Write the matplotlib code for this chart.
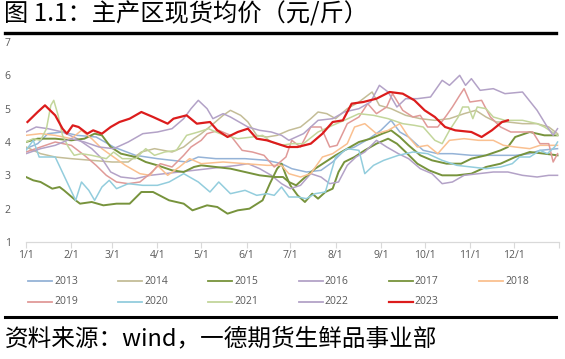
import matplotlib
matplotlib.use("Agg")
import matplotlib.pyplot as plt
from matplotlib.lines import Line2D

plt.rcParams['font.family'] = ['Noto Sans CJK SC', 'DejaVu Sans']

# ---------------- data (day of year, price) ----------------
years = ['2013', '2014', '2015', '2016', '2017', '2018',
         '2019', '2020', '2021', '2022', '2023']
colors = ['#95b3d7', '#c4bd97', '#77933c', '#b3a2c7', '#77933c', '#fac090',
          '#e09a98', '#93cddd', '#c3d69b', '#b3a2c7', '#dc1c1c']
widths = [1.1, 1.1, 1.4, 1.1, 1.4, 1.1, 1.1, 1.1, 1.1, 1.1, 1.6]

d2013 = [0, 8, 15, 25, 35, 48, 60, 75, 90, 100, 110, 118, 130, 150, 165, 175, 182, 192, 202, 210, 218, 225, 235, 243, 250, 256, 262, 272, 282, 292, 305, 320, 335, 345, 352, 364]
v2013 = [3.8, 3.95, 4.25, 4.3, 4.2, 4.15, 3.85, 3.6, 3.5, 3.45, 3.4, 3.55, 3.5, 3.5, 3.45, 3.35, 3.2, 3.1, 3.15, 3.4, 3.75, 3.85, 4.1, 4.35, 4.65, 4.3, 4.15, 3.75, 3.65, 3.65, 3.6, 3.6, 3.6, 3.65, 3.75, 3.8]

d2014 = [0, 10, 20, 31, 45, 59, 70, 79, 88, 100, 108, 115, 120, 127, 135, 140, 147, 152, 158, 165, 172, 180, 188, 195, 200, 206, 212, 220, 228, 237, 242, 250, 260, 270, 280, 290, 300, 308, 315, 322, 330, 340, 350, 358, 364]
v2014 = [3.85, 3.65, 3.55, 3.5, 3.45, 3.4, 3.4, 3.7, 3.8, 3.7, 3.85, 4.1, 4.25, 4.5, 4.8, 4.95, 4.8, 4.6, 4.2, 4.15, 4.2, 4.35, 4.45, 4.7, 4.9, 4.85, 4.7, 5.0, 5.2, 5.5, 5.1, 5.0, 4.8, 4.7, 4.65, 4.7, 4.85, 4.95, 4.75, 4.6, 4.6, 4.55, 4.55, 4.45, 4.25]

d2015 = [0, 5, 10, 18, 23, 26, 34, 37, 45, 53, 62, 71, 79, 87, 98, 108, 114, 124, 131, 138, 145, 153, 162, 167, 172, 175, 178, 181, 186, 191, 196, 200, 205, 210, 214, 218, 225, 232, 240, 248, 254, 260, 268, 276, 285, 295, 305, 315, 325, 335, 345, 355, 364]
v2015 = [2.95, 2.85, 2.8, 2.6, 2.65, 2.55, 2.25, 2.15, 2.2, 2.1, 2.15, 2.15, 2.5, 2.5, 2.25, 2.15, 1.95, 2.1, 2.05, 1.85, 1.95, 2.0, 2.25, 2.75, 3.2, 3.35, 3.0, 2.7, 2.4, 2.2, 2.45, 2.3, 2.5, 2.6, 3.1, 3.4, 3.55, 3.75, 3.95, 4.1, 3.95, 3.7, 3.35, 3.15, 3.0, 3.0, 3.05, 3.25, 3.35, 3.55, 3.7, 3.65, 3.6]

d2016 = [0, 7, 15, 25, 35, 45, 52, 58, 65, 75, 85, 95, 105, 115, 125, 135, 145, 152, 160, 168, 175, 181, 188, 195, 202, 208, 214, 220, 226, 232, 240, 247, 255, 262, 270, 278, 285, 292, 300, 310, 320, 330, 340, 350, 358, 364]
v2016 = [4.3, 4.45, 4.4, 4.3, 4.1, 3.8, 3.5, 3.1, 2.95, 2.9, 3.0, 3.05, 3.1, 3.15, 3.2, 3.25, 3.3, 3.35, 3.2, 3.0, 2.75, 2.6, 2.7, 3.05, 2.95, 2.75, 2.8, 3.3, 3.55, 3.7, 4.05, 3.85, 3.65, 3.5, 3.2, 3.05, 2.75, 2.8, 3.0, 3.05, 3.1, 3.1, 3.0, 2.95, 3.0, 3.0]

d2017 = [0, 8, 20, 31, 40, 47, 52, 58, 65, 75, 82, 90, 100, 108, 115, 120, 130, 140, 150, 160, 170, 176, 180, 185, 190, 198, 205, 212, 220, 228, 236, 244, 250, 256, 262, 270, 278, 288, 298, 305, 315, 325, 330, 335, 345, 355, 364]
v2017 = [4.0, 4.1, 4.1, 4.05, 4.1, 4.25, 4.2, 3.85, 3.65, 3.55, 3.4, 3.3, 3.15, 3.1, 3.25, 3.3, 3.25, 3.2, 3.1, 3.0, 2.95, 2.95, 2.8, 2.7, 2.9, 3.2, 3.4, 3.6, 3.8, 4.0, 4.1, 4.25, 4.35, 4.15, 3.9, 3.6, 3.45, 3.35, 3.35, 3.5, 3.6, 3.75, 3.85, 4.15, 4.3, 4.2, 4.2]

d2018 = [0, 10, 20, 31, 38, 45, 52, 60, 68, 78, 85, 90, 97, 105, 112, 120, 135, 150, 165, 175, 180, 188, 195, 203, 210, 220, 225, 232, 240, 248, 256, 262, 268, 275, 282, 290, 300, 310, 320, 327, 335, 345, 352, 364]
v2018 = [4.2, 4.25, 4.2, 4.1, 4.35, 4.1, 3.8, 3.55, 3.3, 3.05, 3.0, 3.3, 3.0, 3.25, 3.5, 3.35, 3.4, 3.35, 3.3, 3.3, 3.05, 2.95, 3.05, 3.55, 3.65, 3.95, 4.45, 4.55, 4.25, 4.35, 4.55, 4.15, 3.85, 3.9, 3.65, 4.05, 4.1, 4.05, 4.05, 3.9, 3.85, 3.8, 3.9, 3.9]

d2019 = [0, 10, 20, 31, 40, 48, 55, 62, 70, 78, 85, 92, 100, 108, 113, 120, 124, 132, 140, 148, 155, 163, 170, 178, 182, 188, 195, 202, 208, 213, 220, 228, 234, 240, 247, 251, 258, 265, 270, 275, 282, 288, 292, 297, 300, 304, 312, 318, 325, 332, 340, 347, 352, 358, 361, 364]
v2019 = [3.7, 3.85, 4.0, 3.9, 3.6, 3.3, 3.0, 2.8, 2.75, 2.8, 3.05, 3.35, 3.25, 3.6, 3.85, 4.05, 4.25, 4.35, 4.2, 3.75, 3.7, 3.6, 3.25, 3.55, 4.05, 3.85, 4.45, 4.45, 3.85, 3.9, 4.55, 4.75, 5.15, 4.85, 5.05, 5.45, 4.95, 4.75, 4.8, 4.45, 4.45, 4.8, 5.05, 5.4, 5.6, 5.2, 5.25, 4.75, 4.45, 4.3, 4.3, 4.3, 3.95, 3.95, 3.4, 3.65]

d2020 = [0, 5, 9, 14, 20, 34, 38, 43, 47, 52, 57, 62, 70, 80, 90, 98, 108, 118, 126, 132, 140, 150, 158, 165, 170, 175, 180, 186, 192, 198, 205, 212, 220, 228, 232, 238, 245, 255, 265, 275, 285, 295, 305, 315, 325, 333, 338, 345, 352, 357, 362, 364]
v2020 = [3.75, 4.05, 3.55, 3.55, 3.55, 2.25, 2.8, 2.55, 2.25, 2.65, 2.85, 2.6, 2.75, 2.7, 2.7, 2.8, 3.05, 2.8, 2.5, 2.8, 2.45, 2.55, 2.4, 2.45, 2.4, 2.65, 2.35, 2.35, 2.3, 2.45, 2.5, 3.55, 3.8, 3.75, 3.05, 3.3, 3.45, 3.6, 3.7, 3.65, 3.45, 3.3, 3.25, 3.2, 3.25, 3.35, 3.55, 3.55, 3.75, 3.65, 3.85, 4.0]

d2021 = [0, 5, 10, 14, 17, 19, 22, 25, 29, 33, 38, 45, 55, 60, 66, 75, 82, 88, 95, 103, 110, 118, 125, 130, 136, 145, 155, 162, 168, 175, 182, 190, 200, 210, 218, 228, 238, 248, 258, 266, 272, 280, 285, 290, 296, 299, 303, 306, 309, 315, 320, 328, 340, 350, 355, 362, 364]
v2021 = [4.0, 4.1, 4.05, 4.4, 5.1, 5.25, 4.8, 4.2, 3.85, 3.6, 3.65, 3.6, 3.5, 3.7, 3.5, 3.5, 3.8, 3.6, 3.7, 3.75, 4.2, 4.3, 4.4, 4.3, 4.2, 4.1, 4.15, 4.2, 4.0, 3.9, 3.95, 3.95, 4.3, 4.5, 4.65, 4.85, 4.8, 4.7, 4.55, 4.5, 4.45, 4.05, 3.95, 4.35, 4.75, 5.05, 5.05, 4.7, 5.05, 5.0, 4.75, 4.65, 4.65, 4.55, 4.45, 4.25, 4.2]

d2022 = [0, 10, 20, 31, 40, 50, 60, 70, 80, 90, 100, 108, 113, 118, 124, 128, 135, 140, 146, 152, 160, 168, 175, 180, 190, 200, 210, 218, 228, 236, 242, 248, 254, 260, 268, 277, 285, 290, 297, 301, 305, 311, 320, 328, 340, 350, 357, 361, 364]
v2022 = [3.65, 3.8, 3.9, 4.1, 4.0, 3.85, 3.8, 4.0, 4.25, 4.3, 4.4, 4.7, 5.0, 5.25, 5.0, 4.7, 4.85, 4.75, 4.6, 4.45, 4.35, 4.3, 4.2, 4.05, 4.25, 4.65, 4.7, 4.9, 5.0, 5.2, 5.7, 5.5, 5.05, 5.3, 5.3, 5.35, 5.85, 5.7, 6.0, 5.7, 5.9, 5.55, 5.6, 5.45, 5.5, 4.95, 4.45, 4.2, 4.4]

d2023 = [1, 8, 13, 20, 25, 28, 32, 36, 42, 46, 52, 58, 64, 71, 79, 87, 92, 97, 101, 110, 117, 126, 131, 138, 145, 152, 158, 165, 172, 179, 186, 195, 203, 210, 217, 223, 231, 240, 249, 258, 266, 273, 280, 287, 294, 305, 312, 319, 326, 330]
v2023 = [4.6, 4.9, 5.1, 4.8, 4.4, 4.25, 4.5, 4.45, 4.25, 4.35, 4.25, 4.45, 4.6, 4.7, 4.9, 4.75, 4.65, 4.55, 4.7, 4.8, 4.55, 4.6, 4.35, 4.15, 4.3, 4.4, 4.1, 4.05, 3.95, 3.85, 3.85, 3.95, 4.25, 4.6, 4.65, 5.15, 5.2, 5.3, 5.5, 5.45, 5.25, 4.95, 4.75, 4.45, 4.35, 4.3, 4.15, 4.35, 4.6, 4.65]

series_days = [d2013, d2014, d2015, d2016, d2017, d2018, d2019, d2020, d2021, d2022, d2023]
series_vals = [v2013, v2014, v2015, v2016, v2017, v2018, v2019, v2020, v2021, v2022, v2023]

month_days = [0, 31, 59, 90, 120, 151, 181, 212, 243, 273, 304, 334]
month_labels = ['1/1', '2/1', '3/1', '4/1', '5/1', '6/1', '7/1', '8/1', '9/1', '10/1', '11/1', '12/1']
y_ticks = [1, 2, 3, 4, 5, 6, 7]

title = '图 1.1：主产区现货均价（元/斤）'
source = '资料来源：wind，一德期货生鲜品事业部'

# ---------------- layout ----------------
W, H = 565, 359
fig = plt.figure(figsize=(W / 100, H / 100), dpi=100)

def fx(px):
    return px / W

def fy(py):
    return 1 - py / H

ax = fig.add_axes([fx(26), fy(242), fx(559) - fx(26), fy(42) - fy(242)])

for d, v, c, lw in zip(series_days, series_vals, colors, widths):
    ax.plot(d, v, color=c, lw=lw, solid_joinstyle='round')

ax.set_xlim(0, 365)
ax.set_ylim(1, 7)
ax.set_xticks(month_days + [365])
ax.set_xticklabels(month_labels + [''])
ax.set_yticks(y_ticks)
ax.set_yticklabels([str(t) for t in y_ticks])
for s in ['top', 'right', 'left']:
    ax.spines[s].set_visible(False)
ax.spines['bottom'].set_color('#d9d9d9')
ax.spines['bottom'].set_linewidth(0.9)
ax.tick_params(axis='x', length=4, width=0.8, color='#d9d9d9', labelsize=7.5,
               labelcolor='#595959', pad=2)
ax.tick_params(axis='y', length=0, labelsize=7.5, labelcolor='#595959', pad=11)
for lab in ax.get_xticklabels() + ax.get_yticklabels():
    lab.set_family(['Open Sans', 'DejaVu Sans'])

# title and rules
fig.text(fx(4), fy(14), title, fontsize=17.5, va='center', ha='left', color='black')
fig.add_artist(Line2D([fx(5), fx(556)], [fy(32.5), fy(32.5)], lw=2.4, color='black'))
fig.add_artist(Line2D([fx(5), fx(556)], [fy(316.5), fy(316.5)], lw=2.2, color='black'))
fig.text(fx(5), fy(339), source, fontsize=17, va='center', ha='left', color='black')

# legend (two rows, six columns)
for i, (yr, c) in enumerate(zip(years, colors)):
    col, row = i % 6, i // 6
    x0 = 28 + col * 90.2
    yy = 281 + row * 21
    fig.add_artist(Line2D([fx(x0), fx(x0 + 24)], [fy(yy), fy(yy)], lw=1.6 if yr == '2023' else 1.3, color=c))
    fig.text(fx(x0 + 26), fy(yy), yr, fontsize=7.5, va='center', ha='left', color='#595959',
             family=['Open Sans', 'DejaVu Sans'])

fig.savefig('out.png', dpi=100)
